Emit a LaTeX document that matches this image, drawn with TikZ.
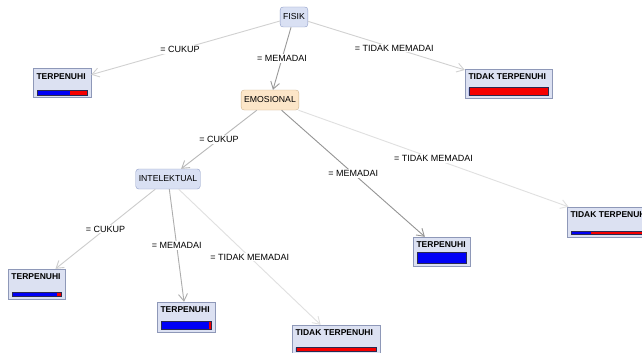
\documentclass[tikz,border=0pt]{standalone}
\usepackage{fontspec}
\setmainfont{Liberation Sans}
\usetikzlibrary{arrows.meta,calc}

\definecolor{attrfill}{HTML}{D9E0F3}
\definecolor{attrdraw}{HTML}{8D9BC6}
\definecolor{emofill}{HTML}{FCE6C8}
\definecolor{emodraw}{HTML}{CDB38F}
\definecolor{leaffill}{HTML}{DCE1F2}
\definecolor{leafdraw}{HTML}{8E98B8}
\definecolor{barblue}{HTML}{0000F5}
\definecolor{barred}{HTML}{F50000}
\definecolor{barline}{HTML}{2A2A50}

\tikzset{
  attr/.style={draw=attrdraw, fill=attrfill, rounded corners=3pt, minimum height=20pt,
    inner xsep=3pt, font=\fontsize{8.7}{10}\selectfont},
  leaf/.style={draw=leafdraw, fill=leaffill, minimum height=29pt, inner sep=0pt},
  leaftitle/.style={anchor=base west, inner sep=0pt, font=\bfseries\fontsize{8.5}{10}\selectfont},
  branch/.style={-{Straight Barb[length=7pt,width=9pt]}, line width=0.9pt},
  cond/.style={fill=white, inner sep=1pt, font=\fontsize{9}{10}\selectfont},
}

%% bar of a leaf: node, blue part, bar height
\newcommand{\leafbar}[3]{%
  \coordinate (#1-l) at ($(#1.south west)+(4pt,2.5pt)$);
  \coordinate (#1-r) at ($(#1.south east)+(-3.5pt,2.5pt)$);
  \fill[barred] (#1-l) rectangle ($(#1-r)+(0,#3)$);
  \fill[barblue] (#1-l) rectangle ($(#1-l)!#2!(#1-r)+(0,#3)$);
  \draw[barline, line width=0.6pt] (#1-l) rectangle ($(#1-r)+(0,#3)$);
}

\begin{document}
\begin{tikzpicture}[x=1pt, y=-1pt]
    \useasboundingbox[fill=white] (0,0) rectangle (642,353);
    %% attribute nodes
    \node[attr] (fisik) at (294,17) {FISIK};
    \node[attr, fill=emofill, draw=emodraw] (emosional) at (270,100) {EMOSIONAL};
    \node[attr] (intelektual) at (168,179) {INTELEKTUAL};
    %% leaves
    \node[leaf, minimum width=58pt] (t1) at (62,83) {};
    \node[leaf, minimum width=87pt] (t2) at (508.5,83.5) {};
    \node[leaf, minimum width=57pt] (t3) at (441.5,251.5) {};
    \node[leaf, minimum width=88pt, minimum height=30pt] (t4) at (611,222) {};
    \node[leaf, minimum width=57pt, minimum height=30pt] (t5) at (36.5,284) {};
    \node[leaf, minimum width=58pt, minimum height=30pt] (t6) at (186,317) {};
    \node[leaf, minimum width=88pt] (t7) at (336,339.5) {};
    \foreach \t/\txt in {t1/TERPENUHI, t2/TIDAK TERPENUHI, t3/TERPENUHI, t4/TIDAK TERPENUHI,
                         t5/TERPENUHI, t6/TERPENUHI, t7/TIDAK TERPENUHI}
      \node[leaftitle] at ($(\t.north west)+(3.5pt,-11pt)$) {\txt};
    \leafbar{t1}{0.65}{5pt}
    \leafbar{t2}{0}{8pt}
    \leafbar{t3}{1}{11pt}
    \leafbar{t4}{0.25}{3pt}
    \leafbar{t5}{0.9}{4pt}
    \leafbar{t6}{0.94}{8pt}
    \leafbar{t7}{0}{4pt}
    %% branches
    \draw[branch, draw=black!18] (fisik) -- node[cond, pos=0.53] {= CUKUP} (t1);
    \draw[branch, draw=black!40] (fisik) -- node[cond] {= MEMADAI} (emosional);
    \draw[branch, draw=black!18] (fisik) -- node[cond, pos=0.55] {= TIDAK MEMADAI} (t2);
    \draw[branch, draw=black!28] (emosional) -- node[cond] {= CUKUP} (intelektual);
    \draw[branch, draw=black!42] (emosional) -- node[cond] {= MEMADAI} (t3);
    \draw[branch, draw=black!12] (emosional) -- node[cond] {= TIDAK MEMADAI} (t4);
    \draw[branch, draw=black!20] (intelektual) -- node[cond] {= CUKUP} (t5);
    \draw[branch, draw=black!32] (intelektual) -- node[cond] {= MEMADAI} (t6);
    \draw[branch, draw=black!12] (intelektual) -- node[cond] {= TIDAK MEMADAI} (t7);
\end{tikzpicture}
\end{document}
